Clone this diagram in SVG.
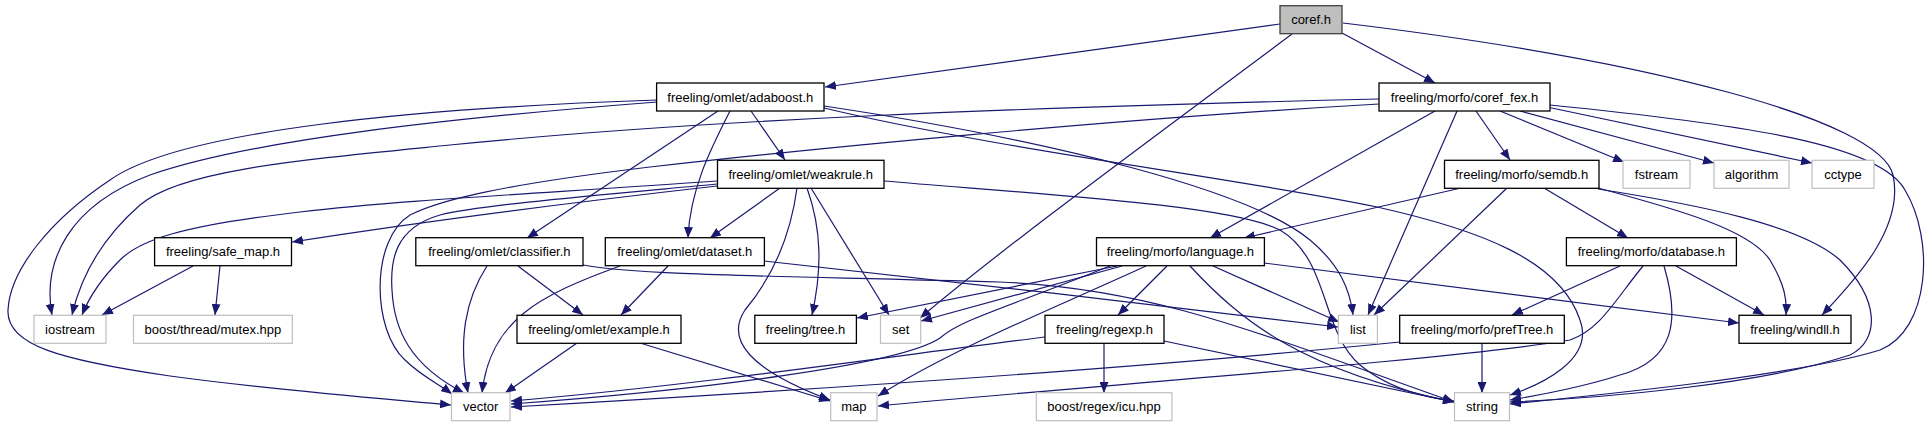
<svg xmlns="http://www.w3.org/2000/svg" width="1932" height="427" viewBox="0 0 1932 427">
<defs>
<marker id="a" markerWidth="12" markerHeight="9" refX="11" refY="4.5" orient="auto" markerUnits="userSpaceOnUse"><path d="M0,0 L11,4.5 L0,9 z" fill="#191970"/></marker>
<style>
.e{fill:none;stroke:#191970;stroke-width:1.2;marker-end:url(#a)}
.n rect{fill:#fff;stroke:#000;stroke-width:1.3}
.s rect{fill:#fff;stroke:#bfbfbf;stroke-width:1.2}
.m rect{fill:#bfbfbf;stroke:#404040;stroke-width:1.3}
text{font-family:"Liberation Sans",Arial,sans-serif;font-size:13px;fill:#000;text-anchor:middle}
</style>
</defs>
<rect width="1932" height="427" fill="#fff"/>
<g id="edges">
<!-- coref.h -->
<path class="e" d="M1280,24 L825,87"/>
<path class="e" d="M1342,33 L1435,83"/>
<path class="e" d="M1292,34 C1150,140 1000,250 920,318"/>
<path class="e" d="M1343,23 C1650,60 1880,120 1893,175 C1905,230 1850,285 1822,315"/>
<!-- adaboost -->
<path class="e" d="M657,102 C450,118 250,140 150,175 C70,205 42,260 52,315"/>
<path class="e" d="M657,100 C420,108 180,130 110,180 C50,220 10,270 8,310 C6,345 60,360 170,376 C280,391 400,400 451,405"/>
<path class="e" d="M824,106 C1050,140 1250,190 1310,240 C1340,265 1350,290 1353,315"/>
<path class="e" d="M824,108 C1000,150 1250,180 1377,207 C1480,230 1560,260 1580,320 C1595,360 1540,385 1510,395"/>
<path class="e" d="M751,111 L785,160"/>
<path class="e" d="M718,111 L527,238"/>
<path class="e" d="M730,111 C710,150 690,190 688,238"/>
<!-- coref_fex -->
<path class="e" d="M1379,99 C1000,108 700,120 450,145 C300,160 180,170 140,205 C100,240 80,280 72,315"/>
<path class="e" d="M1379,104 C1100,120 800,150 650,167 C500,185 440,200 410,215 C370,240 372,330 405,360 C420,375 440,385 452,394"/>
<path class="e" d="M1435,111 L1210,238"/>
<path class="e" d="M1457,111 L1368,315"/>
<path class="e" d="M1476,111 L1510,160"/>
<path class="e" d="M1500,111 L1624,162"/>
<path class="e" d="M1520,111 L1714,163"/>
<path class="e" d="M1547,107 L1812,163"/>
<path class="e" d="M1550,105 C1750,125 1880,145 1905,190 C1935,240 1930,330 1880,350 C1800,375 1600,395 1510,404"/>
<!-- weakrule -->
<path class="e" d="M717,181 C550,193 400,200 300,212 C180,226 140,240 120,260 C100,280 88,300 82,315"/>
<path class="e" d="M717,184 C600,195 480,205 440,215 C395,228 390,260 392,290 C394,330 410,365 464,393"/>
<path class="e" d="M717,186 C550,205 400,225 292,242"/>
<path class="e" d="M780,188 L710,238"/>
<path class="e" d="M797,188 C790,240 770,280 745,310 C725,340 750,370 830,400"/>
<path class="e" d="M807,188 C822,230 822,270 812,315"/>
<path class="e" d="M811,188 L889,315"/>
<path class="e" d="M884,181 C1050,195 1230,205 1280,230 C1330,260 1320,330 1360,365 C1390,390 1430,398 1454,401"/>
<!-- classifier -->
<path class="e" d="M487,266 C465,300 458,340 468,393"/>
<path class="e" d="M518,266 L583,315"/>
<path class="e" d="M583,265 C640,276 800,276 1000,282 C1150,288 1250,330 1454,402"/>
<!-- dataset -->
<path class="e" d="M620,266 C540,295 490,320 482,393"/>
<path class="e" d="M668,266 L621,315"/>
<path class="e" d="M764,261 C900,275 1200,310 1338,327"/>
<!-- example -->
<path class="e" d="M577,343 L505,393"/>
<path class="e" d="M640,343 L830,401"/>
<!-- safe_map -->
<path class="e" d="M193,266 L102,315"/>
<path class="e" d="M220,266 L215,315"/>
<!-- semdb -->
<path class="e" d="M1461,188 L1244,238"/>
<path class="e" d="M1507,188 L1374,315"/>
<path class="e" d="M1544,188 L1628,238"/>
<path class="e" d="M1598,188 C1680,210 1750,230 1770,260 C1785,285 1787,300 1786,315"/>
<path class="e" d="M1598,189 C1700,205 1800,225 1840,260 C1880,300 1880,340 1850,355 C1760,385 1600,398 1510,402"/>
<!-- language -->
<path class="e" d="M1117,266 L857,318"/>
<path class="e" d="M1122,266 L921,321"/>
<path class="e" d="M1110,266 C1000,310 960,320 940,338 C900,365 700,390 511,404"/>
<path class="e" d="M1146,266 C1050,310 950,350 878,396"/>
<path class="e" d="M1167,266 L1118,315"/>
<path class="e" d="M1213,266 L1339,322"/>
<path class="e" d="M1190,266 C1240,320 1300,370 1454,402"/>
<path class="e" d="M1264,263 L1739,323"/>
<!-- regexp -->
<path class="e" d="M1045,337 C900,355 700,385 511,401"/>
<path class="e" d="M1104,343 L1104,393"/>
<path class="e" d="M1164,341 C1300,370 1400,390 1454,402"/>
<!-- database -->
<path class="e" d="M1620,266 L1512,315"/>
<path class="e" d="M1643,266 C1615,300 1600,330 1570,340 C1450,360 1100,385 878,406"/>
<path class="e" d="M1664,266 C1680,320 1675,360 1620,375 C1580,388 1540,395 1510,400"/>
<path class="e" d="M1676,266 L1764,315"/>
<!-- prefTree -->
<path class="e" d="M1400,342 C1200,362 900,385 511,407"/>
<path class="e" d="M1482,343 L1482,393"/>
</g>
<g id="coref_h" class="m"><rect x="1280" y="5.7" width="62" height="28"/><text x="1311" y="24.2">coref.h</text></g>
<g id="adaboost" class="n"><rect x="656.6" y="83" width="167.4" height="28"/><text x="740.3" y="101.5">freeling/omlet/adaboost.h</text></g>
<g id="coref_fex" class="n"><rect x="1379" y="83" width="171" height="28"/><text x="1464.5" y="101.5">freeling/morfo/coref_fex.h</text></g>
<g id="weakrule" class="n"><rect x="717.5" y="160.3" width="166.5" height="28"/><text x="800.7" y="178.8">freeling/omlet/weakrule.h</text></g>
<g id="semdb" class="n"><rect x="1444.5" y="160.3" width="154.5" height="28"/><text x="1521.7" y="178.8">freeling/morfo/semdb.h</text></g>
<g id="fstream" class="s"><rect x="1623" y="160.3" width="67" height="28"/><text x="1656.5" y="178.8">fstream</text></g>
<g id="algorithm" class="s"><rect x="1714" y="160.3" width="75" height="28"/><text x="1751.5" y="178.8">algorithm</text></g>
<g id="cctype" class="s"><rect x="1812" y="160.3" width="62" height="28"/><text x="1843" y="178.8">cctype</text></g>
<g id="safe_map" class="n"><rect x="154.6" y="237.7" width="136.9" height="28"/><text x="223" y="256.2">freeling/safe_map.h</text></g>
<g id="classifier" class="n"><rect x="415.8" y="237.7" width="167.2" height="28"/><text x="499.4" y="256.2">freeling/omlet/classifier.h</text></g>
<g id="dataset" class="n"><rect x="605.3" y="237.7" width="159.1" height="28"/><text x="684.8" y="256.2">freeling/omlet/dataset.h</text></g>
<g id="language" class="n"><rect x="1096.5" y="237.7" width="167.9" height="28"/><text x="1180.4" y="256.2">freeling/morfo/language.h</text></g>
<g id="database" class="n"><rect x="1566.4" y="237.7" width="170" height="28"/><text x="1651.4" y="256.2">freeling/morfo/database.h</text></g>
<g id="iostream" class="s"><rect x="34" y="315.3" width="72" height="28"/><text x="70" y="333.8">iostream</text></g>
<g id="mutex" class="s"><rect x="133.5" y="315.3" width="158.8" height="28"/><text x="212.9" y="333.8">boost/thread/mutex.hpp</text></g>
<g id="example" class="n"><rect x="517" y="315.3" width="164" height="28"/><text x="599" y="333.8">freeling/omlet/example.h</text></g>
<g id="tree" class="n"><rect x="754.8" y="315.3" width="101.6" height="28"/><text x="805.6" y="333.8">freeling/tree.h</text></g>
<g id="set" class="s"><rect x="880.5" y="315.3" width="40.2" height="28"/><text x="900.6" y="333.8">set</text></g>
<g id="regexp" class="n"><rect x="1045" y="315.3" width="119" height="28"/><text x="1104.5" y="333.8">freeling/regexp.h</text></g>
<g id="list" class="s"><rect x="1338.4" y="315.3" width="39" height="28"/><text x="1357.9" y="333.8">list</text></g>
<g id="prefTree" class="n"><rect x="1399.7" y="315.3" width="164.6" height="28"/><text x="1482" y="333.8">freeling/morfo/prefTree.h</text></g>
<g id="windll" class="n"><rect x="1739" y="315.3" width="112" height="28"/><text x="1795" y="333.8">freeling/windll.h</text></g>
<g id="vector" class="s"><rect x="451.5" y="392.7" width="58.5" height="28"/><text x="480.7" y="411.2">vector</text></g>
<g id="map" class="s"><rect x="830.7" y="392.7" width="46.3" height="28"/><text x="853.9" y="411.2">map</text></g>
<g id="icu" class="s"><rect x="1036.3" y="392.7" width="135.6" height="28"/><text x="1104" y="411.2">boost/regex/icu.hpp</text></g>
<g id="string" class="s"><rect x="1454.5" y="392.7" width="55" height="28"/><text x="1482" y="411.2">string</text></g>
</svg>
